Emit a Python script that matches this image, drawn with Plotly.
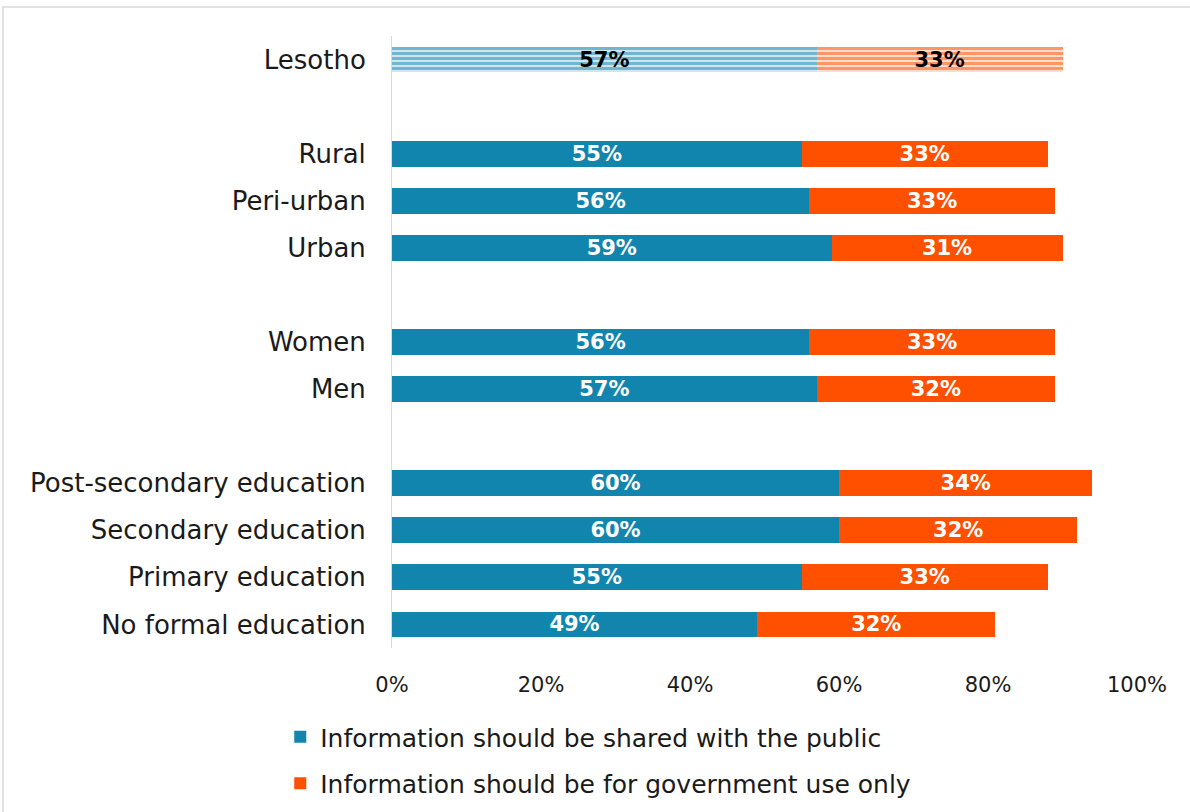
import plotly.graph_objects as go

categories = ["Lesotho", " ", "Rural", "Peri-urban", "Urban", "  ", "Women", "Men", "   ",
              "Post-secondary education", "Secondary education", "Primary education", "No formal education"]
public = [57, None, 55, 56, 59, None, 56, 57, None, 60, 60, 55, 49]
government = [33, None, 33, 33, 31, None, 33, 32, None, 34, 32, 33, 32]
series_names = ["Information should be shared with the public", "Information should be for government use only"]
tick_vals = [0, 20, 40, 60, 80, 100]
tick_text = ["0%", "20%", "40%", "60%", "80%", "100%"]

BLUE = "#1185AD"
ORANGE = "#FF5000"
LBLUE = "#CFE6F0"
LORANGE = "#FFDCCB"
FONT = "DejaVu Sans"

fig = go.Figure()

def add_series(vals, name, color, light, group):
    # Lesotho (first) bar: striped pattern, others solid
    nat = [v if i == 0 else None for i, v in enumerate(vals)]
    rest = [None if i == 0 else v for i, v in enumerate(vals)]
    fig.add_trace(go.Bar(
        y=categories, x=nat, orientation="h", name=name, showlegend=False,
        legendgroup=group,
        marker=dict(color=light, line=dict(width=0),
                    pattern=dict(shape="-", fgcolor=color, bgcolor=light, size=5, solidity=0.6)),
        text=[f"{v}%" if v is not None else "" for v in nat],
        textposition="inside", insidetextanchor="middle", textangle=0, constraintext="none",
        textfont=dict(family=FONT, size=21, color="black", weight="bold"),
        hoverinfo="skip", width=0.55,
    ))
    fig.add_trace(go.Bar(
        y=categories, x=rest, orientation="h", name=name, showlegend=True,
        legendgroup=group,
        marker=dict(color=color, line=dict(width=0)),
        text=[f"{v}%" if v is not None else "" for v in rest],
        textposition="inside", insidetextanchor="middle", textangle=0, constraintext="none",
        textfont=dict(family=FONT, size=21, color="white", weight="bold"),
        hoverinfo="skip", width=0.55,
    ))

add_series(public, series_names[0], BLUE, LBLUE, "a")
add_series(government, series_names[1], ORANGE, LORANGE, "b")

fig.update_layout(
    barmode="stack",
    width=1190, height=812,
    margin=dict(l=392, r=53, t=36, b=164),
    paper_bgcolor="white", plot_bgcolor="white",
    font=dict(family=FONT, size=25, color="#1a1a1a"),
    showlegend=True,
    legend=dict(orientation="v", xref="paper", x=-0.150, xanchor="left",
                yref="container", y=1 - 714 / 812, yanchor="top",
                font=dict(family=FONT, size=25, color="#1a1a1a"), tracegroupgap=11,
                itemwidth=30, traceorder="grouped"),
)
fig.update_xaxes(range=[0, 100], tickvals=tick_vals, ticktext=tick_text, showgrid=False,
                 zeroline=False, showline=False, ticks="", ticklabelstandoff=22,
                 tickfont=dict(family=FONT, size=21, color="#1a1a1a"))
fig.update_yaxes(categoryorder="array", categoryarray=categories, autorange="reversed",
                 showline=True, linecolor="#d9d9d9", linewidth=1, showgrid=False,
                 ticks="", ticklabelstandoff=20, tickfont=dict(family=FONT, size=26, color="#1a1a1a"))
fig.add_shape(type="rect", xref="paper", yref="paper",
              x0=(3 - 392) / 745, x1=(1200 - 392) / 745,
              y0=(648 - 830) / 612, y1=(648 - 7) / 612,
              line=dict(color="#d9d9d9", width=1.5), fillcolor="rgba(0,0,0,0)", layer="below")

fig.write_html("out.html", config={"displayModeBar": False},
               post_script="document.body.style.margin='0';")
